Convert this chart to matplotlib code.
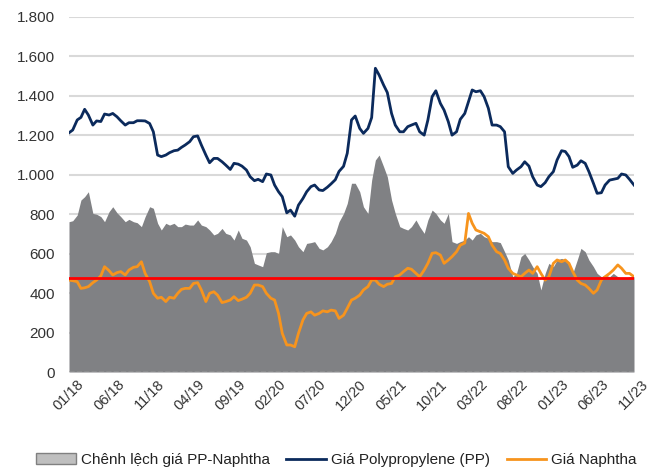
import numpy as np
import pandas as pd
import matplotlib.pyplot as plt
from matplotlib.ticker import FuncFormatter
from matplotlib.patches import Patch
from matplotlib.lines import Line2D

plt.rcParams['font.family'] = ['Liberation Sans', 'DejaVu Sans']

# semi-monthly data, 01/2018 -> 11/2023 (USD/tấn)
dates = pd.date_range('2018-01-01', '2023-11-01', freq='SMS')

gia_pp = [1213, 1227, 1278, 1291, 1332, 1303, 1252, 1273, 1270, 1308, 1303, 1311,
          1294, 1274, 1252, 1264, 1264, 1274, 1274, 1273, 1260, 1218, 1100, 1092,
          1100, 1112, 1122, 1125, 1139, 1151, 1168, 1193, 1197, 1151, 1100, 1061,
          1083, 1083, 1066, 1049, 1027, 1058, 1054, 1044, 1024, 990, 970, 977,
          965, 1004, 999, 948, 914, 889, 807, 821, 790, 846, 880, 914,
          940, 948, 923, 920, 937, 954, 975, 1017, 1043, 1109, 1278,
          1298, 1235, 1210, 1235, 1290, 1540, 1506, 1455, 1417, 1311, 1252, 1218,
          1218, 1244, 1252, 1261, 1218, 1201, 1278, 1396, 1426, 1362, 1328, 1269, 1201,
          1218, 1281, 1311, 1371, 1430, 1421, 1426, 1396, 1337, 1252, 1252, 1244,
          1218, 1041, 1007, 1024, 1041, 1066, 1044, 990, 948, 940, 960, 990,
          1016, 1075, 1122, 1118, 1092, 1038, 1049, 1071, 1058, 1016, 957, 906,
          909, 948, 973, 977, 982, 1004, 999, 977, 948]

chenh_lech = [762, 767, 796, 872, 889, 914, 804, 800, 788, 762, 813, 838,
              807, 788, 762, 774, 762, 757, 737, 788, 838, 830, 754, 720,
              754, 745, 754, 737, 737, 750, 745, 745, 771, 745, 737, 720,
              695, 703, 728, 703, 695, 669, 720, 678, 669, 635, 551, 543,
              534, 605, 610, 610, 601, 737, 686, 695, 669, 635, 610, 652,
              656, 661, 627, 619, 635, 661, 703, 762, 804, 855, 957,
              957, 914, 838, 804, 973, 1075, 1100, 1041, 990, 872, 804, 737,
              728, 720, 737, 771, 737, 703, 771, 821, 804, 771, 754, 804, 661,
              652, 661, 669, 686, 669, 695, 703, 686, 678, 661, 661, 656,
              610, 568, 483, 500, 585, 601, 568, 534, 500, 416, 500, 551,
              534, 568, 576, 568, 543, 500, 568, 627, 610, 568, 534, 500,
              483, 492, 483, 500, 483, 475, 475, 483, 483]

gia_naphtha = [466, 463, 458, 424, 427, 433, 453, 466, 487, 534, 514, 492,
               504, 509, 492, 517, 531, 534, 559, 500, 458, 399, 374, 379,
               357, 379, 374, 399, 419, 424, 424, 449, 453, 416, 357, 399,
               407, 390, 352, 357, 365, 382, 362, 369, 379, 399, 441, 441,
               433, 399, 374, 365, 297, 196, 137, 137, 128, 196, 264, 297,
               305, 288, 297, 310, 305, 314, 310, 272, 288, 323, 365,
               374, 390, 416, 433, 466, 466, 445, 433, 445, 449, 483, 492,
               509, 526, 521, 500, 483, 517, 551, 602, 605, 593, 551, 568, 585,
               610, 643, 654, 804, 754, 720, 711, 703, 686, 643, 610, 601,
               568, 526, 500, 492, 483, 500, 517, 500, 534, 500, 466, 483,
               551, 568, 559, 568, 551, 509, 466, 449, 441, 424, 399, 416,
               466, 483, 500, 517, 543, 526, 500, 500, 483]

trung_binh = 475

tick_labels = ['01/18', '06/18', '11/18', '04/19', '09/19', '02/20', '07/20', '12/20',
               '05/21', '10/21', '03/22', '08/22', '01/23', '06/23', '11/23']

fig = plt.figure(figsize=(6.53, 4.71), dpi=100)
ax = fig.add_axes([69/653, 1 - 372/471, 565/653, 355/471])

ax.fill_between(dates, chenh_lech, 0, color='#808184', linewidth=0, zorder=2)
ax.plot(dates, gia_pp, color='#0b2a5c', linewidth=2, zorder=4)
ax.plot(dates, gia_naphtha, color='#f7941d', linewidth=2, zorder=4)
ax.axhline(trung_binh, color='#ff0000', linewidth=2, zorder=5)
ax.axhline(0, color='#bfbfbf', linewidth=1, linestyle='--', zorder=6)

ax.set_ylim(0, 1800)
ax.set_yticks(range(0, 1801, 200))
ax.yaxis.set_major_formatter(FuncFormatter(lambda v, p: f'{int(v):,}'.replace(',', '.')))
ax.grid(axis='y', color='#d9d9d9', linewidth=1.5, zorder=0)
ax.set_axisbelow(True)

ax.set_xlim(dates[0], dates[-1])
tick_dates = [pd.to_datetime(t, format='%m/%y') for t in tick_labels]
ax.set_xticks(tick_dates)
ax.set_xticklabels(tick_labels, rotation=45, ha='center', va='top')

for s in ax.spines.values():
    s.set_visible(False)
ax.tick_params(axis='both', length=0, labelsize=11, colors='#333333')
ax.tick_params(axis='y', pad=10)
ax.tick_params(axis='x', pad=4, labelsize=10.5)

handles = [Patch(facecolor='#bfbfbf', edgecolor='#808080', linewidth=1),
           Line2D([], [], color='#0b2a5c', linewidth=2),
           Line2D([], [], color='#f7941d', linewidth=2)]
labels = ['Chênh lệch giá PP-Naphtha', 'Giá Polypropylene (PP)', 'Giá Naphtha']
fig.legend(handles, labels, loc='center', bbox_to_anchor=(0.515, 1 - 460/471), ncol=3,
           frameon=False, fontsize=11, handlelength=2.6, handletextpad=0.3,
           columnspacing=1.1, labelcolor='#222222')

fig.savefig('out.png', dpi=100)
